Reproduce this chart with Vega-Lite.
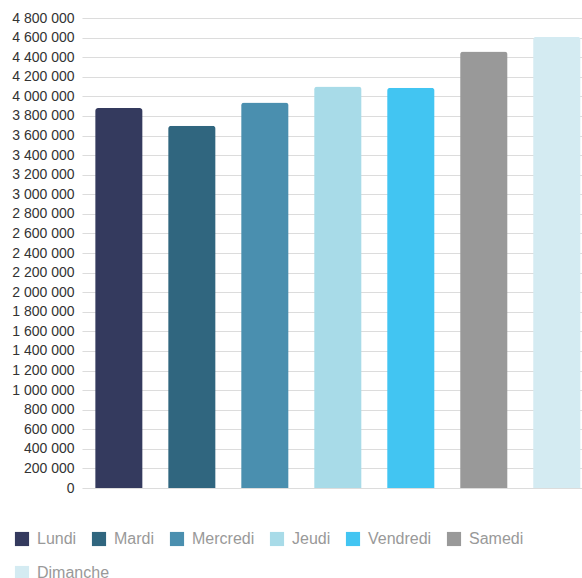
{
  "$schema": "https://vega.github.io/schema/vega-lite/v6.json",
  "autosize": {"type": "none"},
  "width": 500,
  "height": 470,
  "padding": {"left": 82, "top": 18, "right": 0, "bottom": 90},
  "background": "white",
  "data": {
    "values": [
      {"jour": "Lundi", "valeur": 3880000},
      {"jour": "Mardi", "valeur": 3700000},
      {"jour": "Mercredi", "valeur": 3937000},
      {"jour": "Jeudi", "valeur": 4100000},
      {"jour": "Vendredi", "valeur": 4087000},
      {"jour": "Samedi", "valeur": 4458000},
      {"jour": "Dimanche", "valeur": 4608000}
    ]
  },
  "mark": {"type": "bar", "cornerRadiusTopLeft": 3, "cornerRadiusTopRight": 3, "strokeWidth": 0},
  "encoding": {
    "x": {
      "field": "jour",
      "type": "nominal",
      "sort": null,
      "axis": null,
      "scale": {"paddingInner": 0.35, "paddingOuter": 0.1, "align": 0.9}
    },
    "y": {
      "field": "valeur",
      "type": "quantitative",
      "scale": {"domain": [0, 4800000], "nice": false},
      "axis": {
        "title": null,
        "domain": false,
        "ticks": false,
        "tickCount": 24,
        "labelPadding": 8,
        "labelFont": "Liberation Sans",
        "labelFontSize": 14,
        "labelColor": "#333333",
        "gridColor": "#dcdcdc",
        "gridWidth": 1.2,
        "labelExpr": "replace(format(datum.value, ',d'), regexp(',', 'g'), ' ')"
      }
    },
    "color": {
      "field": "jour",
      "type": "nominal",
      "sort": null,
      "scale": {
        "domain": ["Lundi", "Mardi", "Mercredi", "Jeudi", "Vendredi", "Samedi", "Dimanche"],
        "range": ["#343a5e", "#30667f", "#4a8faf", "#a8dbe8", "#42c5f2", "#999999", "#d4ebf2"]
      },
      "legend": {
        "title": null,
        "orient": "none",
        "legendX": -68,
        "legendY": 513,
        "direction": "horizontal",
        "values": ["Lundi", "Mardi", "Mercredi", "Jeudi", "Vendredi", "Samedi"],
        "columnPadding": 14,
        "symbolType": "square",
        "symbolSize": 200,
        "symbolStrokeWidth": 0,
        "symbolOpacity": 1,
        "labelOffset": 7,
        "labelFont": "Liberation Sans",
        "labelFontSize": 16,
        "labelColor": "#999999"
      }
    },
    "stroke": {
      "field": "jour",
      "type": "nominal",
      "scale": {"domain": ["Dimanche"], "range": ["#d4ebf2"]},
      "legend": {
        "title": null,
        "orient": "none",
        "legendX": -68,
        "legendY": 547,
        "direction": "horizontal",
        "symbolType": "square",
        "symbolSize": 200,
        "symbolStrokeWidth": 0,
        "symbolOpacity": 1,
        "symbolFillColor": "#d4ebf2",
        "labelOffset": 7,
        "labelFont": "Liberation Sans",
        "labelFontSize": 16,
        "labelColor": "#999999",
        "encode": {"symbols": {"update": {"fill": {"value": "#d4ebf2"}, "stroke": {"value": "#d4ebf2"}}}}
      }
    }
  },
  "config": {"view": {"stroke": null}}
}
